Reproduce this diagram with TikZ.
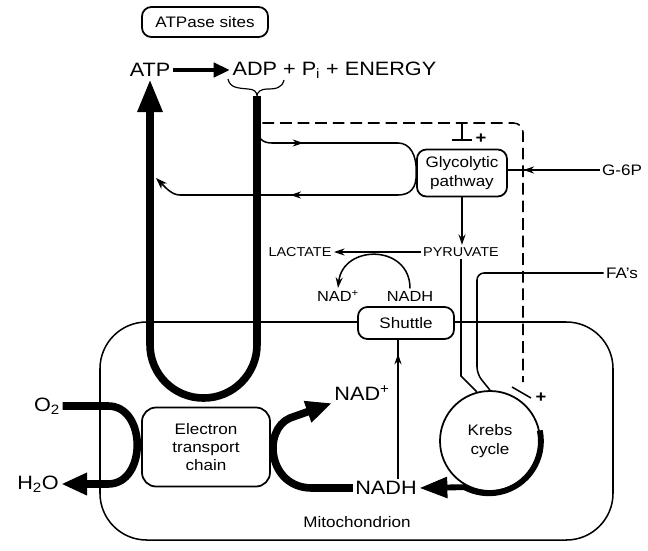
\documentclass[tikz,border=0pt]{standalone}
\usepackage{fontspec}
\setmainfont{Liberation Sans}[FakeStretch=1.12]
\usetikzlibrary{arrows.meta,calc,decorations.markings}

\begin{document}
\begin{tikzpicture}[x=0.03cm, y=-0.03cm,
  heavy/.style={line width=6.5pt},
  thinln/.style={line width=1.3pt},
  labelbox/.style={draw, line width=1.5pt, rounded corners=8pt, align=center, fill=white, inner sep=2pt, font=\fontsize{13}{15.5}\selectfont},
  bigtxt/.style={inner sep=2pt, font=\fontsize{16.5}{18}\selectfont},
  midtxt/.style={inner sep=2pt, font=\fontsize{13}{15.5}\selectfont},
  nadtxt/.style={inner sep=2pt, font=\fontsize{12.5}{14}\selectfont},
  smalltxt/.style={inner sep=2pt, font=\fontsize{11}{12}\selectfont},
  signtxt/.style={inner sep=0pt, font=\bfseries\fontsize{14}{14}\selectfont},
  midarrow/.style={postaction={decorate, decoration={markings, mark=at position #1 with {\arrow{Stealth[length=9pt,width=6pt]}}}}}]
  \useasboundingbox (0,0) rectangle (648,550);

  % mitochondrion
  \draw[thinln, rounded corners=1.4cm] (100,322) rectangle (613,540);
  \node[midtxt] (mito) at (357,522) {Mitochondrion};

  % ATP use at the top
  \node[labelbox, minimum width=3.78cm, minimum height=0.9cm] (atpase) at (205,22) {ATPase sites};
  \node[bigtxt] (atp) at (150,70) {ATP};
  \node[bigtxt, anchor=west] (adp) at (230,70) {ADP + P\textsubscript{i} + ENERGY};
  \draw[line width=4pt, -{Triangle[length=14pt,width=12pt]}] (atp) -- (adp);
  \coordinate (stemtop) at (257,96);
  \draw[line width=1pt] (228,79) .. controls (230,88) and (238,88) .. (248,89) .. controls (254,89) and (257,92) .. (stemtop)
    .. controls (257,92) and (261,89) .. (267,89) .. controls (276,89) and (282,88) .. (284,80);

  % glycolysis
  \node[labelbox, minimum width=2.7cm, minimum height=1.41cm] (glyco) at (462,173) {Glycolytic\\pathway};
  \node[midtxt] (g6p) at (622,170) {G-6P};
  \node[midtxt] (fas) at (622,273) {FA's};
  \node[smalltxt] (pyr) at (461,252) {PYRUVATE};
  \node[smalltxt] (lac) at (300,252) {LACTATE};
  \node[nadtxt] (nadup) at (338,296) {NAD\textsuperscript{+}};
  \node[nadtxt] (nadhup) at (410,296) {NADH};

  \coordinate (dashstart) at (257,108);
  \coordinate (topstart) at (257,126);
  \coordinate (backend) at (156,178);
  \draw[thinln, dash pattern=on 10pt off 5pt, rounded corners=8pt] (dashstart) .. controls (257,118) and (260,123) .. (270,123)
    -- (523,123) -- (523,382);
  \draw[thinln] (462,123) -- (462,140);
  \draw[thinln] (452,140) -- (472,140);
  \node[signtxt] (actglyco) at (481,139) {+};
  \draw[thinln] (512,387) -- (531,398);
  \node[signtxt] (actkrebs) at (541,398) {+};

  \draw[thinln, midarrow=0.3] (topstart) .. controls (257,138) and (262,143) .. (272,143) -- (398,143)
    .. controls (410,143) and (417,155) .. (glyco.west);
  \draw[thinln, midarrow=0.5, -{Stealth[length=10pt,width=7pt]}] (glyco.west) .. controls (417,188) and (410,195) .. (398,195)
    -- (180,195) .. controls (172,195) and (166,188) .. (backend);
  \draw[thinln, midarrow=0.83] (g6p.west) -- (glyco.east |- g6p.west);
  \draw[thinln, -{Stealth[length=9pt,width=6pt]}] (glyco.south) -- (glyco.south |- pyr.north);
  \draw[thinln, -{Stealth[length=9pt,width=6pt]}] (pyr) -- (lac);
  \draw[thinln, -{Stealth[length=9pt,width=6pt]}] (nadhup.north) .. controls (410,244) and (343,244) .. (nadup.north);

  % ATP regeneration loop
  \draw[heavy, rounded corners=1.6cm, -{Triangle[length=28pt,width=20pt]}] (stemtop) -- (257,398) -- (150,398) -- (atp.south);

  % inside the mitochondrion
  \node[labelbox, minimum width=2.88cm, minimum height=0.96cm] (shuttle) at (406,323) {Shuttle};
  \node[draw, circle, line width=1.5pt, minimum size=3cm, align=center, font=\fontsize{13}{15.5}\selectfont] (krebs) at (490,441) {Krebs\\cycle};
  \node[labelbox, minimum width=3.84cm, minimum height=2.37cm, rounded corners=12pt] (etc) at (206,447) {Electron\\transport\\chain};
  \node[bigtxt] (nadhbig) at (386,488) {NADH};
  \node[bigtxt] (nadbig) at (362,393) {NAD\textsuperscript{+}};
  \node[bigtxt] (o2) at (47,406) {O\textsubscript{2}};
  \node[bigtxt] (h2o) at (38,484) {H\textsubscript{2}O};

  \draw[thinln] (pyr.south) -- (pyr.south |- 0,376) -- (krebs.105);
  \draw[thinln, rounded corners=6pt] (fas.west) -- (477,273) -- (477,374) -- (krebs.90);

  \coordinate (nadhtop) at ($(nadhbig.north)+(12,0)$);
  \draw[thinln, midarrow=0.9] (nadhtop) -- (nadhtop |- shuttle.south);

  \draw[heavy, -{Triangle[length=22pt,width=18pt]}] (o2.east) -- (108,406) .. controls (147,406) and (147,484) .. (108,484) -- (h2o.east);
  \draw[heavy, -{Triangle[length=22pt,width=18pt]}] (nadhbig.west) -- (312,488) .. controls (268,488) and (262,430) .. (290,418) -- (nadbig.south west);
  \draw[line width=5pt, -{Triangle[length=24pt,width=17pt]}] (krebs.12) arc[start angle=-12, end angle=118, radius=52] -- (nadhbig.east);
\end{tikzpicture}
\end{document}
